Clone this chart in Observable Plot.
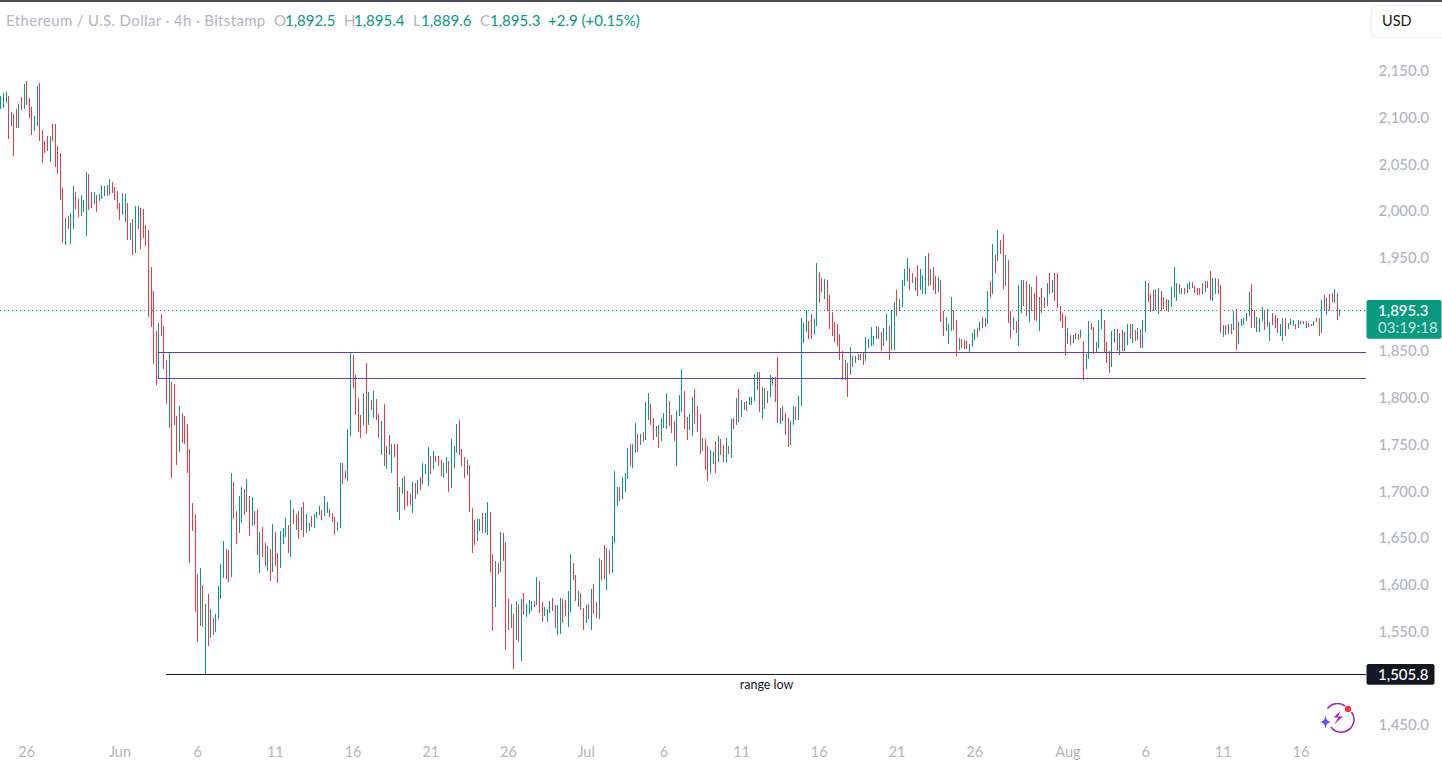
<!DOCTYPE html>
<html><head><meta charset="utf-8">
<script src="https://cdn.jsdelivr.net/npm/d3@7"></script>
<script src="https://cdn.jsdelivr.net/npm/@observablehq/plot@0.6"></script>
<style>
html,body{margin:0;padding:0;background:#fff;overflow:hidden}
#wrap{position:relative;width:1442px;height:768px;overflow:hidden;font-family:Lato,sans-serif}
#topline{position:absolute;left:0;top:0;width:1442px;height:2px;background:#4a4d55}
#legend span{position:absolute;top:11px;font-size:15px;line-height:18px;color:#b2b5be;white-space:pre}
#legend span.v{color:#089981}
#usd{position:absolute;left:1371px;top:5px;width:80px;height:33px;border:1px solid #eeeff2;border-radius:6px;box-sizing:border-box;font-size:14.5px;line-height:30px;color:#131722;padding-left:10px}
#logo{position:absolute;left:1318px;top:703px}
svg.plot{display:block}
</style></head><body>
<div id="wrap">
<div id="chart"></div>
<div id="topline"></div>
<div id="legend">
<span style="left:6px;letter-spacing:.35px">Ethereum / U.S. Dollar · 4h · Bitstamp</span>
<span style="left:274px">O</span><span class="v" style="left:285px">1,892.5</span>
<span style="left:344px">H</span><span class="v" style="left:354px">1,895.4</span>
<span style="left:413px">L</span><span class="v" style="left:421px">1,889.6</span>
<span style="left:480px">C</span><span class="v" style="left:490px">1,895.3</span>
<span class="v" style="left:548px">+2.9 (+0.15%)</span>
</div>
<div id="usd">USD</div>
<svg id="logo" width="38" height="30" viewBox="0 0 38 30" fill="none">
<path d="M9.5 5.5A12.5 12.5 0 0 1 27 3" stroke="#9c27b0" stroke-width="1.6"/>
<path d="M33.5 9A12.5 12.5 0 0 1 13 24" stroke="#9c27b0" stroke-width="1.6"/>
<path d="M22.5 8 15.5 14.5h5L17 20l-1 1.5 9-8h-5l2.5-5.5z" fill="#9c27b0"/>
<path d="M7.5 12.5C8.3 17 9.3 18 13 19 9.3 20 8.3 21 7.5 26 6.7 21 5.7 20 2 19 5.7 18 6.7 17 7.5 12.5z" fill="#6a4cff"/>
<circle cx="30" cy="6" r="3.2" fill="#f23645"/>
</svg>
</div>
<script>
const firstBar = Date.UTC(2023, 4, 24, 8);
const barHours = 4;
const high = [
2125,2128,2129,2125,2107,2105,2111,2116,2124,2137,
2141,2122,2113,2103,2135,2138,2088,2076,2082,2082,
2095,2095,2071,2064,2026,1994,1996,1999,2028,2022,
2014,2019,2013,2043,2041,2022,2022,2019,2020,2029,
2028,2029,2036,2033,2027,2023,2010,2021,2020,2010,
1989,1993,2007,2007,2005,2004,1987,1981,1942,1916,
1873,1882,1891,1878,1842,1850,1819,1816,1782,1793,
1785,1782,1774,1747,1689,1677,1613,1620,1601,1581,
1592,1576,1566,1570,1600,1624,1648,1640,1639,1721,
1712,1681,1697,1706,1704,1715,1697,1695,1681,1683,
1658,1663,1646,1643,1640,1667,1658,1636,1659,1662,
1673,1666,1692,1683,1677,1681,1685,1690,1677,1668,
1675,1677,1679,1686,1682,1697,1690,1683,1678,1674,
1669,1732,1732,1723,1768,1850,1847,1826,1801,1783,
1807,1839,1808,1799,1809,1800,1784,1777,1795,1750,
1762,1752,1752,1752,1706,1716,1718,1702,1699,1712,
1710,1714,1717,1732,1731,1749,1739,1745,1739,1739,
1735,1732,1738,1734,1758,1750,1774,1778,1747,1738,
1735,1730,1684,1671,1672,1672,1678,1678,1690,1679,
1634,1627,1625,1658,1657,1647,1586,1581,1570,1584,
1581,1586,1593,1581,1585,1584,1584,1610,1606,1583,
1578,1576,1584,1587,1580,1580,1587,1586,1585,1595,
1634,1625,1612,1595,1593,1577,1580,1581,1597,1602,
1583,1630,1628,1644,1641,1639,1654,1723,1706,1706,
1717,1721,1748,1752,1752,1775,1763,1763,1765,1797,
1807,1795,1780,1771,1773,1780,1785,1807,1798,1783,
1777,1788,1805,1832,1809,1781,1784,1803,1811,1793,
1784,1759,1758,1750,1746,1744,1755,1761,1758,1751,
1759,1750,1779,1780,1801,1811,1799,1797,1798,1803,
1803,1827,1829,1829,1813,1812,1809,1826,1824,1824,
1845,1791,1793,1785,1780,1777,1793,1792,1804,1887,
1882,1896,1884,1891,1886,1946,1936,1930,1929,1928,
1912,1893,1883,1881,1870,1852,1842,1839,1856,1846,
1846,1849,1849,1851,1867,1865,1877,1868,1879,1877,
1872,1876,1891,1879,1896,1904,1917,1907,1928,1939,
1951,1941,1935,1931,1944,1939,1933,1953,1957,1939,
1942,1932,1931,1928,1895,1888,1881,1910,1896,1885,
1866,1865,1864,1862,1859,1871,1875,1876,1883,1888,
1887,1916,1927,1966,1954,1981,1971,1977,1954,1949,
1895,1888,1884,1922,1928,1928,1927,1923,1920,1914,
1932,1910,1919,1910,1924,1935,1928,1935,1935,1900,
1892,1889,1876,1869,1869,1871,1870,1874,1862,1849,
1884,1882,1877,1861,1885,1897,1885,1861,1852,1873,
1875,1875,1871,1874,1872,1881,1881,1881,1874,1876,
1875,1885,1927,1924,1913,1917,1918,1919,1916,1910,
1907,1906,1920,1942,1924,1923,1919,1919,1923,1926,
1926,1921,1919,1919,1924,1927,1927,1937,1930,1930,
1929,1922,1880,1880,1881,1881,1895,1897,1883,1886,
1887,1892,1915,1923,1896,1888,1887,1899,1896,1897,
1883,1892,1890,1887,1881,1887,1887,1882,1886,1885,
1881,1885,1884,1884,1884,1882,1881,1884,1887,1887,
1906,1912,1908,1913,1914,1918,1914,1895.4];
const low = [
2111,2112,2117,2079,2092,2060,2090,2090,2110,2111,
2115,2101,2083,2087,2092,2076,2053,2064,2066,2054,
2076,2049,2041,2013,1967,1965,1982,1966,1982,2004,
1995,1996,2000,1975,2003,2005,2009,2000,2012,2014,
2018,2018,2019,2021,2013,2004,1992,1997,1990,1971,
1971,1954,1957,1982,1961,1973,1964,1888,1877,1838,
1815,1822,1868,1833,1795,1769,1716,1773,1730,1744,
1753,1752,1721,1625,1659,1572,1540,1557,1556,1505.8,
1536,1545,1548,1551,1565,1586,1609,1608,1605,1610,
1672,1645,1657,1668,1676,1679,1654,1664,1666,1633,
1614,1631,1622,1616,1606,1615,1622,1603,1620,1645,
1653,1636,1631,1667,1660,1651,1660,1653,1657,1659,
1663,1662,1673,1676,1671,1675,1678,1674,1669,1655,
1659,1662,1709,1715,1713,1761,1812,1783,1765,1759,
1773,1763,1773,1789,1780,1778,1759,1740,1729,1725,
1740,1721,1738,1679,1671,1699,1682,1686,1687,1678,
1693,1699,1703,1709,1720,1707,1720,1725,1733,1729,
1718,1716,1721,1701,1705,1727,1743,1740,1729,1716,
1719,1679,1636,1644,1648,1659,1657,1657,1655,1615,
1552,1578,1613,1615,1627,1532,1553,1555,1511,1542,
1540,1520,1569,1567,1570,1573,1578,1580,1571,1562,
1568,1562,1571,1574,1555,1548,1549,1561,1568,1556,
1572,1607,1584,1578,1575,1553,1561,1565,1553,1570,
1566,1565,1607,1608,1596,1613,1614,1646,1686,1691,
1693,1701,1715,1729,1727,1743,1744,1751,1754,1756,
1778,1773,1756,1760,1748,1755,1769,1768,1772,1764,
1755,1729,1782,1786,1768,1756,1767,1761,1774,1765,
1742,1745,1724,1713,1721,1731,1721,1733,1740,1733,
1732,1741,1737,1768,1773,1776,1781,1789,1788,1794,
1794,1798,1810,1786,1779,1790,1796,1803,1815,1797,
1775,1774,1777,1762,1749,1751,1773,1778,1778,1793,
1860,1872,1865,1865,1869,1879,1903,1915,1907,1895,
1875,1868,1861,1857,1842,1821,1821,1803,1826,1835,
1839,1842,1842,1837,1841,1855,1857,1858,1865,1865,
1852,1857,1862,1842,1853,1853,1889,1894,1899,1921,
1927,1917,1925,1916,1911,1917,1913,1913,1921,1922,
1917,1913,1915,1883,1868,1873,1859,1873,1874,1846,
1853,1855,1854,1854,1850,1856,1864,1867,1873,1876,
1877,1881,1908,1913,1935,1948,1956,1918,1921,1882,
1866,1874,1871,1857,1892,1900,1889,1883,1895,1885,
1884,1873,1892,1898,1900,1913,1914,1905,1898,1884,
1876,1847,1859,1858,1860,1865,1863,1866,1821,1832,
1843,1874,1849,1850,1855,1875,1850,1839,1828,1835,
1860,1852,1847,1852,1852,1858,1865,1860,1862,1864,
1855,1855,1872,1904,1893,1895,1896,1891,1895,1897,
1895,1893,1899,1910,1905,1913,1913,1913,1914,1918,
1919,1914,1912,1912,1913,1915,1919,1906,1905,1913,
1913,1871,1867,1869,1870,1870,1874,1853,1859,1878,
1880,1884,1889,1876,1876,1872,1872,1884,1874,1877,
1862,1880,1876,1871,1868,1862,1868,1875,1880,1878,
1875,1876,1881,1881,1876,1877,1878,1878,1883,1868,
1871,1896,1890,1895,1904,1903,1885,1889.6];
const direction = [
"uuududdudu","ddduuddddu","ddddduduud","duuudduduu","ududddduud",
"uduudddddd","dudddudddu","dddddddudu","duduuuuddu","dduudududd",
"uddududduu","ududdduduu","duuuduuddd","uudduudddd","udududdudu",
"dudduudddu","duduuududd","duuduuuddd","uddduuduud","dududddudu",
"duduuududd","uuudduuddu","udduddudud","dudduduuud","uuuduududu",
"udduduuudd","duuudduudd","dudduududd","udududuudu","uuududuuud",
"duddduuduu","uudduuddud","ddddddudud","ududuuuuud","duuduuduuu",
"udduduuudu","ddudduuudd","uddduuudud","uudududdud","duduuddudd",
"duddududdd","ddududdudu","udduuudddu","ududuududu","duuddududd",
"duuuududuu","dddddudduu","ddudududuu","uuudduuudu","uddduuduuu",
"dudduddudd","ududdudu"].join("");
const priceTicks = [1450,1550,1600,1650,1700,1750,1800,1850,1950,2000,2050,2100,2150];
const timeTicks = ["2023-05-26","2023-06-01","2023-06-06","2023-06-11","2023-06-16","2023-06-21","2023-06-26","2023-07-01","2023-07-06","2023-07-11","2023-07-16","2023-07-21","2023-07-26","2023-08-01","2023-08-06","2023-08-11","2023-08-16"];
const timeLabels = ["26","Jun","6","11","16","21","26","Jul","6","11","16","21","26","Aug","6","11","16"];
const lastPrice = 1895.3, lastCountdown = "03:19:18";
const rangeLow = 1505.8, rangeLowLabel = "range low";
const rangeHighLevels = [1851, 1822.5];
const xDomain = [new Date(firstBar - 0.127*4*3600e3), new Date(firstBar + 527.3*4*3600e3)];
const levelStart = new Date("2023-06-03T12:00Z"), rangeLowStart = new Date("2023-06-04T00:00Z");

const bars = high.map((h,i)=>({date:new Date(firstBar+i*barHours*3600e3), high:h, low:low[i], dir:direction[i]==="u"?"up":"down"}));
const tickDates = timeTicks.map(d=>new Date(d+"T00:00Z"));
const labelOf = new Map(tickDates.map((d,i)=>[+d,timeLabels[i]]));
const font = 'Lato,sans-serif';
const fmt = d3.format(",.1f");

function tag(value, fill, above, h, w){
  return (index, {y}, values, dim) => {
    const r = d3.create("svg:rect");
    r.attr("x", dim.width-dim.marginRight+0.5).attr("width", w)
     .attr("y", y(value)-above).attr("height", h).attr("rx",2).attr("fill",fill);
    return r.node();
  };
}

const chart = Plot.plot({
  width:1442, height:768, marginLeft:0, marginRight:76, marginTop:40, marginBottom:28,
  style:{background:"transparent",fontFamily:font},
  x:{type:"utc",domain:xDomain},
  y:{domain:[1435.5,2184.5]},
  color:{domain:["up","down"],range:["#089981","#f23645"]},
  marks:[
    Plot.ruleY([lastPrice],{x1:xDomain[0],x2:xDomain[1],stroke:"#089981",strokeDasharray:"1,3",strokeWidth:1,shapeRendering:"crispEdges"}),
    Plot.ruleX(bars,{x:"date",y1:"low",y2:"high",stroke:"dir",strokeWidth:1,shapeRendering:"crispEdges"}),
    Plot.ruleY(rangeHighLevels,{x1:levelStart,x2:xDomain[1],stroke:"#673ab7",strokeWidth:1,shapeRendering:"crispEdges"}),
    Plot.ruleY([rangeLow],{x1:rangeLowStart,x2:xDomain[1],stroke:"#131722",strokeWidth:1,shapeRendering:"crispEdges"}),
    Plot.text([rangeLowLabel],{x:new Date((+rangeLowStart + +xDomain[1])/2),y:rangeLow,dy:10,fill:"#131722",fontSize:12.5,fontFamily:font}),
    Plot.axisX({ticks:tickDates,tickFormat:d=>labelOf.get(+d),tickSize:0,tickPadding:6,fontSize:14.5,fill:"#b2b5be",fontFamily:font,label:null}),
    Plot.axisY({anchor:"right",ticks:priceTicks,tickFormat:fmt,tickSize:0,tickPadding:12,fontSize:15,fill:"#b2b5be",fontWeight:500,fontFamily:font,dy:-1.5,label:null}),
    tag(lastPrice,"#089981",10.3,38.7,75),
    tag(rangeLow,"#131722",10.3,20.7,68),
    Plot.text([fmt(lastPrice)],{y:lastPrice,frameAnchor:"right",dx:11.5,textAnchor:"start",fill:"#fff",fontSize:15,fontWeight:500,fontFamily:font,dy:0}),
    Plot.text([lastCountdown],{y:lastPrice,frameAnchor:"right",dx:11.5,textAnchor:"start",fill:"#fff",fillOpacity:0.8,fontSize:15,fontFamily:font,dy:17}),
    Plot.text([fmt(rangeLow)],{y:rangeLow,frameAnchor:"right",dx:11.5,textAnchor:"start",fill:"#fff",fontSize:15,fontWeight:500,fontFamily:font})
  ]
});
document.getElementById("chart").appendChild(chart);
</script>
</body></html>
